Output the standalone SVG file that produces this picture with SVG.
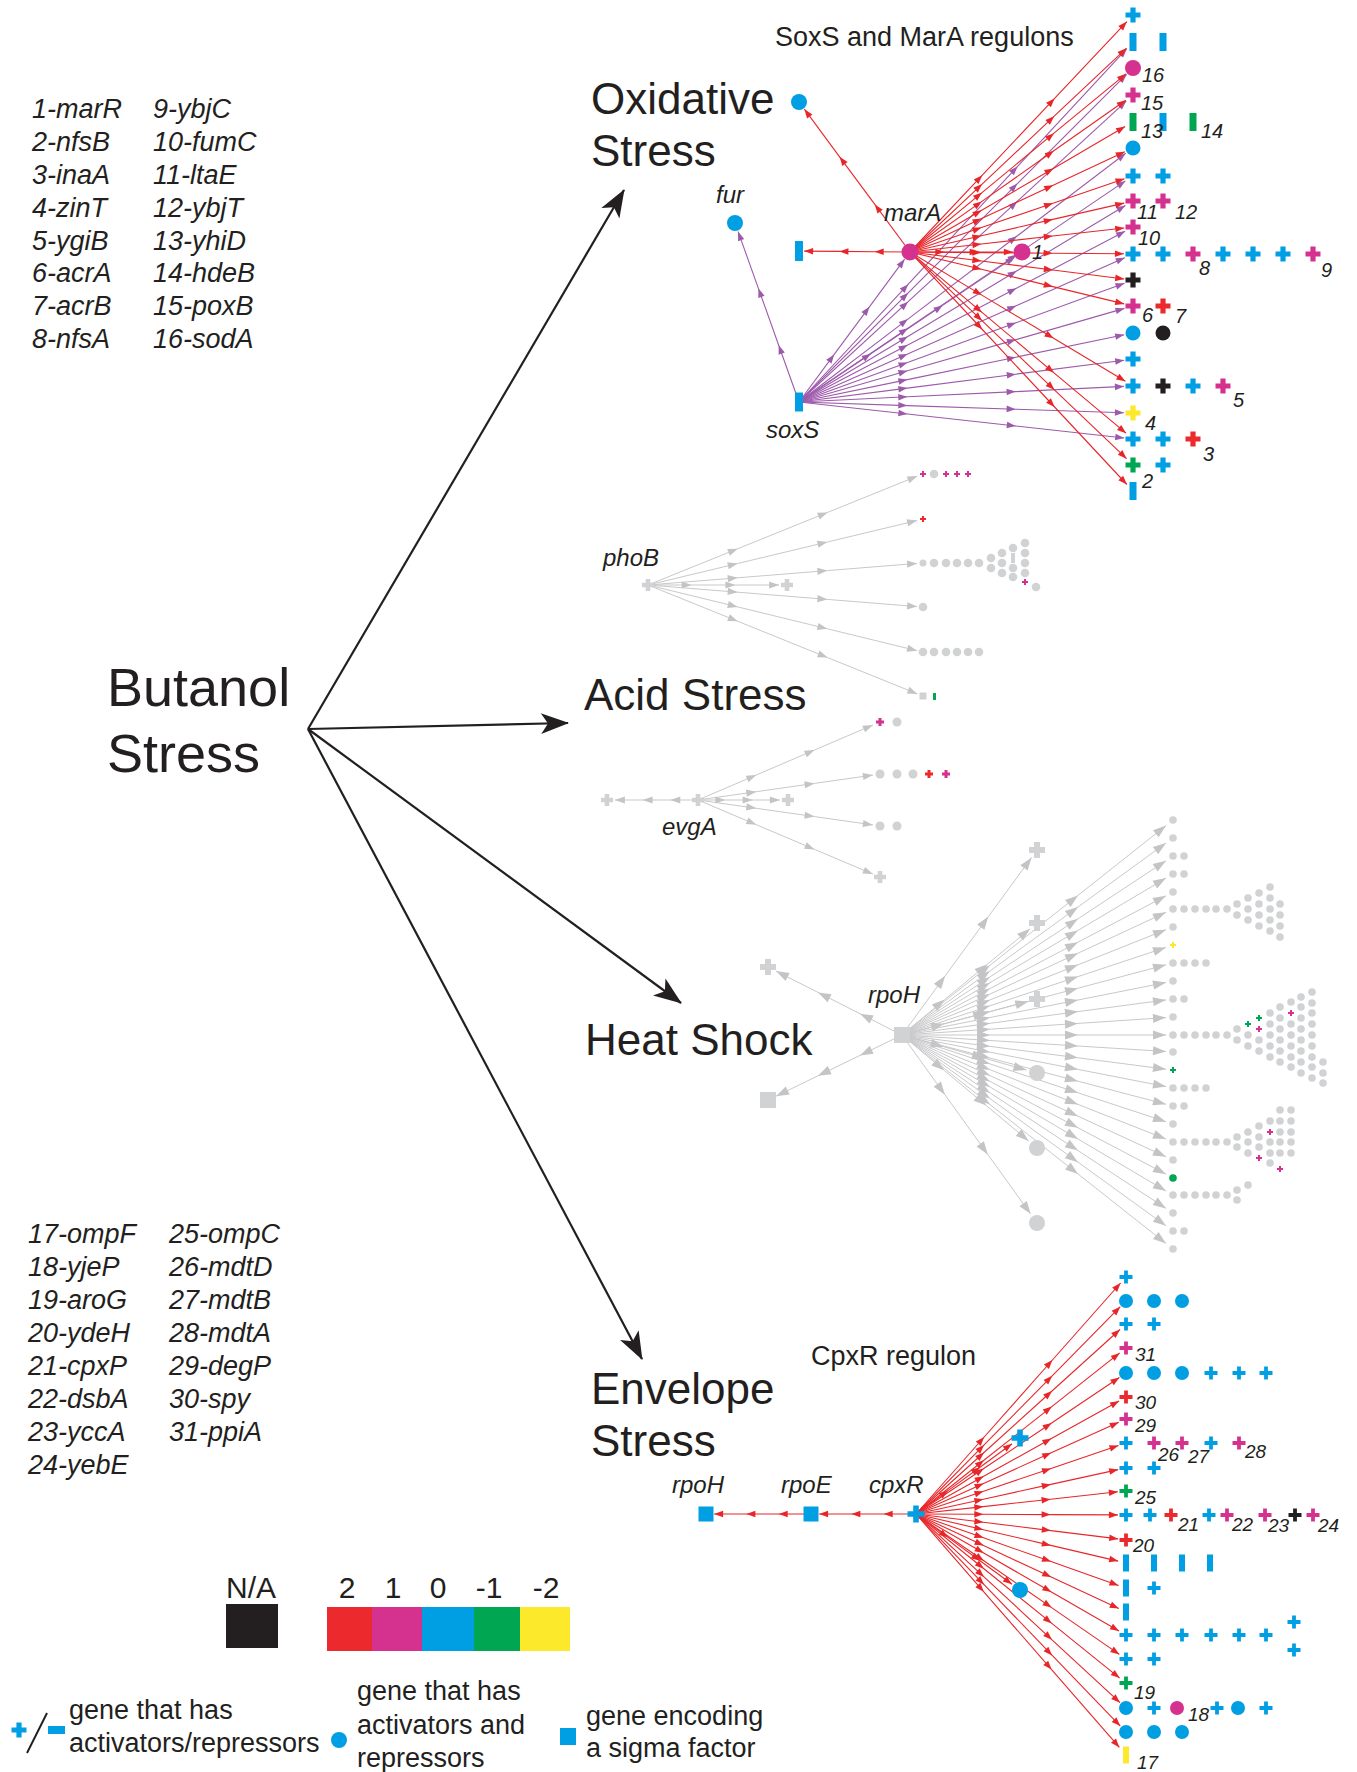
<svg xmlns="http://www.w3.org/2000/svg" width="1357" height="1772" viewBox="0 0 1357 1772">
<style>
text{font-family:"Liberation Sans",Arial,sans-serif;fill:#231f20}
.t{font-size:44px}.bt{font-size:54px}.sub{font-size:27px}
.gn{font-size:24px;font-style:italic}.n{font-size:20px;font-style:italic}.n2{font-size:19px;font-style:italic}
.ls{font-size:27px;font-style:italic}.lg{font-size:27px}.sc{font-size:30px}
.r{fill:#ec2a2d}.m{fill:#d5328f}.b{fill:#009fe3}.g{fill:#00a651}.y{fill:#fde92b}.k{fill:#231f20}.gr{fill:#d1d2d4}
.er{fill:none;stroke:#e8262a;stroke-width:1.1;marker-mid:url(#mr);marker-end:url(#mr)}
.ep{fill:none;stroke:#9d5aab;stroke-width:1.1;marker-mid:url(#mp);marker-end:url(#mp)}
.eg{fill:none;stroke:#c9c9cb;stroke-width:1;marker-mid:url(#mg);marker-end:url(#mg)}
.eh{fill:none;stroke:#c9c9cb;stroke-width:1;marker-mid:url(#mh);marker-end:url(#mh)}
</style>
<defs>
<marker id="mr" markerUnits="userSpaceOnUse" markerWidth="12" markerHeight="10" viewBox="-10 -5 12 10" refX="0" refY="0" orient="auto" overflow="visible"><path d="M0,0L-9,-3.3L-9,3.3z" fill="#e8262a"/></marker>
<marker id="mp" markerUnits="userSpaceOnUse" markerWidth="12" markerHeight="10" viewBox="-10 -5 12 10" refX="0" refY="0" orient="auto" overflow="visible"><path d="M0,0L-9,-3.3L-9,3.3z" fill="#9d5aab"/></marker>
<marker id="mg" markerUnits="userSpaceOnUse" markerWidth="12" markerHeight="10" viewBox="-10 -5 12 10" refX="0" refY="0" orient="auto" overflow="visible"><path d="M0,0L-10,-3.6L-10,3.6z" fill="#c4c4c6"/></marker>
<marker id="mh" markerUnits="userSpaceOnUse" markerWidth="14" markerHeight="10" viewBox="-13 -5 14 10" refX="0" refY="0" orient="auto" overflow="visible"><path d="M0,0L-13,-4.5L-13,4.5z" fill="#c4c4c6"/></marker>
<marker id="big" markerUnits="userSpaceOnUse" markerWidth="30" markerHeight="24" viewBox="-28 -12 30 24" refX="0" refY="0" orient="auto" overflow="visible"><path d="M1,0L-27,-10.5L-20,0L-27,10.5z" fill="#231f20"/></marker>
<path id="pL" d="M-2.6,-7.5h5.2v4.9h4.9v5.2h-4.9v4.9h-5.2v-4.9h-4.9v-5.2h4.9z"/>
<path id="pS" d="M-1.9,-6.5h3.8v4.6h4.6v3.8h-4.6v4.6h-3.8v-4.6h-4.6v-3.8h4.6z"/>
<path id="pB" d="M-2.8,-8.5h5.6v5.7h5.7v5.6h-5.7v5.7h-5.6v-5.7h-5.7v-5.6h5.7z"/>
<path id="pT" d="M-1,-3h2v2h2v2h-2v2h-2v-2h-2v-2h2z"/>
<path id="pM" d="M-1.5,-4h3v2.5h2.5v3h-2.5v2.5h-3v-2.5h-2.5v-3h2.5z"/>
<path id="pG" d="M-2.3,-6h4.6v3.7h3.7v4.6h-3.7v3.7h-4.6v-3.7h-3.7v-4.6h3.7z"/>
<path id="pH" d="M-3,-8h6v5h5v6h-5v5h-6v-5h-5v-6h5z"/>
</defs>
<rect width="1357" height="1772" fill="#fff"/>

<!-- connectors -->
<g id="connectors">
<g id="main-arrows" stroke="#231f20" stroke-width="2.2" fill="none" marker-end="url(#big)">
<line x1="308" y1="729" x2="624" y2="190"/>
<line x1="308" y1="729" x2="568" y2="723"/>
<line x1="308" y1="729" x2="681" y2="1003"/>
<line x1="308" y1="729" x2="642" y2="1359"/>
</g>
<g id="soxS-edges" class="ep">
<path d="M799 402l35.2 -47.6l35.2 -47.6l35.2 -47.6"/>
<path d="M799 402l71.8 -48.3l71.8 -48.3l71.8 -48.3"/>
<path d="M799 402l-20.3 -56.8l-20.3 -56.8l-20.3 -56.8"/>
<path d="M799 402l109.3 -117.8l109.3 -117.8l109.3 -117.8"/>
<path d="M799 402l109.2 -109.2l109.2 -109.2l109.2 -109.2"/>
<path d="M799 402l109.1 -100.3l109.1 -100.3l109.1 -100.3"/>
<path d="M799 402l108.9 -82.9l108.9 -82.9l108.9 -82.9"/>
<path d="M799 402l108.8 -73.7l108.8 -73.7l108.8 -73.7"/>
<path d="M799 402l108.8 -65.5l108.8 -65.5l108.8 -65.5"/>
<path d="M799 402l108.7 -56.9l108.7 -56.9l108.7 -56.9"/>
<path d="M799 402l108.6 -48.1l108.6 -48.1l108.6 -48.1"/>
<path d="M799 402l108.5 -39.6l108.5 -39.6l108.5 -39.6"/>
<path d="M799 402l108.5 -31.2l108.5 -31.2l108.5 -31.2"/>
<path d="M799 402l108.4 -22.4l108.4 -22.4l108.4 -22.4"/>
<path d="M799 402l108.4 -13.9l108.4 -13.9l108.4 -13.9"/>
<path d="M799 402l108.3 -5.2l108.3 -5.2l108.3 -5.2"/>
<path d="M799 402l108.3 3.6l108.3 3.6l108.3 3.6"/>
<path d="M799 402l108.4 12l108.4 12l108.4 12"/>
</g>
<g id="marA-edges" class="er">
<path d="M910 252l72.3 -76.8l72.3 -76.8l72.3 -76.8"/>
<path d="M910 252l72.1 -67.9l72.1 -67.9l72.1 -67.9"/>
<path d="M910 252l72 -59.4l72 -59.4l72 -59.4"/>
<path d="M910 252l71.9 -50.6l71.9 -50.6l71.9 -50.6"/>
<path d="M910 252l71.7 -41.8l71.7 -41.8l71.7 -41.8"/>
<path d="M910 252l71.6 -33.4l71.6 -33.4l71.6 -33.4"/>
<path d="M910 252l71.5 -24.4l71.5 -24.4l71.5 -24.4"/>
<path d="M910 252l71.4 -16.3l71.4 -16.3l71.4 -16.3"/>
<path d="M910 252l71.4 -8l71.4 -8l71.4 -8"/>
<path d="M910 252l71.3 0.6l71.3 0.6l71.3 0.6"/>
<path d="M910 252l71.4 9l71.4 9l71.4 9"/>
<path d="M910 252l71.4 17.3l71.4 17.3l71.4 17.3"/>
<path d="M910 252l71.8 43.1l71.8 43.1l71.8 43.1"/>
<path d="M910 252l72 60.4l72 60.4l72 60.4"/>
<path d="M910 252l72.2 68.9l72.2 68.9l72.2 68.9"/>
<path d="M910 252l72.3 77.5l72.3 77.5l72.3 77.5"/>
<path d="M910 252l34.3 0l34.3 0l34.3 0"/>
<path d="M910 252l-35.3 -0.3l-35.3 -0.3l-35.3 -0.3"/>
<path d="M910 252l-35.2 -47.6l-35.2 -47.6l-35.2 -47.6"/>
</g>
<g id="phoB-edges" class="eg">
<path d="M648 585l89.8 -36.3l89.8 -36.3l89.8 -36.3"/>
<path d="M648 585l89.7 -21.5l89.7 -21.5l89.7 -21.5"/>
<path d="M648 585l89.7 -7.2l89.7 -7.2l89.7 -7.2"/>
<path d="M648 585l43.7 0l43.7 0l43.7 0"/>
<path d="M648 585l89.7 7.2l89.7 7.2l89.7 7.2"/>
<path d="M648 585l89.7 21.9l89.7 21.9l89.7 21.9"/>
<path d="M648 585l89.8 36.3l89.8 36.3l89.8 36.3"/>
</g>
<g id="evgA-edges" class="eg">
<path d="M698 800l-27.7 0l-27.7 0l-27.7 0"/>
<path d="M698 800l58.3 -25l58.3 -25l58.3 -25"/>
<path d="M698 800l58.3 -8.3l58.3 -8.3l58.3 -8.3"/>
<path d="M698 800l27.3 0l27.3 0l27.3 0"/>
<path d="M698 800l58.3 8.3l58.3 8.3l58.3 8.3"/>
<path d="M698 800l58.3 24.7l58.3 24.7l58.3 24.7"/>
</g>
<g id="rpoH-heat-edges" class="eh">
<path d="M902 1035l-42 -21.3l-42 -21.3l-42 -21.3"/>
<path d="M902 1035l-42 20.4l-42 20.4l-42 20.4"/>
<path d="M902 1035l43.2 -59.2l43.2 -59.2l43.2 -59.2"/>
<path d="M902 1035l42.7 -35.4l42.7 -35.4l42.7 -35.4"/>
<path d="M902 1035l42.1 -11.2l42.1 -11.2l42.1 -11.2"/>
<path d="M902 1035l41.5 11.7l41.5 11.7l41.5 11.7"/>
<path d="M902 1035l42.2 35.3l42.2 35.3l42.2 35.3"/>
<path d="M902 1035l42.9 59.7l42.9 59.7l42.9 59.7"/>
<path d="M902 1035l88 -69.8l88 -69.8l88 -69.8"/>
<path d="M902 1035l88 -64l88 -64l88 -64"/>
<path d="M902 1035l88 -58.1l88 -58.1l88 -58.1"/>
<path d="M902 1035l88 -52.3l88 -52.3l88 -52.3"/>
<path d="M902 1035l88 -46.4l88 -46.4l88 -46.4"/>
<path d="M902 1035l88 -40.9l88 -40.9l88 -40.9"/>
<path d="M902 1035l88 -35.1l88 -35.1l88 -35.1"/>
<path d="M902 1035l88 -29.2l88 -29.2l88 -29.2"/>
<path d="M902 1035l88 -23.4l88 -23.4l88 -23.4"/>
<path d="M902 1035l88 -17.5l88 -17.5l88 -17.5"/>
<path d="M902 1035l88 -11.7l88 -11.7l88 -11.7"/>
<path d="M902 1035l88 -5.8l88 -5.8l88 -5.8"/>
<path d="M902 1035l88 0l88 0l88 0"/>
<path d="M902 1035l88 5.5l88 5.5l88 5.5"/>
<path d="M902 1035l88 11.4l88 11.4l88 11.4"/>
<path d="M902 1035l88 17.2l88 17.2l88 17.2"/>
<path d="M902 1035l88 23.1l88 23.1l88 23.1"/>
<path d="M902 1035l88 28.9l88 28.9l88 28.9"/>
<path d="M902 1035l88 34.7l88 34.7l88 34.7"/>
<path d="M902 1035l88 40.6l88 40.6l88 40.6"/>
<path d="M902 1035l88 46.4l88 46.4l88 46.4"/>
<path d="M902 1035l88 52l88 52l88 52"/>
<path d="M902 1035l88 57.8l88 57.8l88 57.8"/>
<path d="M902 1035l88 63.6l88 63.6l88 63.6"/>
<path d="M902 1035l88 69.5l88 69.5l88 69.5"/>
</g>
<g id="cpxR-edges" class="er">
<path d="M916 1514l-32.3 0l-32.3 0l-32.3 0"/>
<path d="M811 1514l-32.3 0l-32.3 0l-32.3 0"/>
<path d="M916 1514l32 -23.4l32 -23.4l32 -23.4"/>
<path d="M916 1514l32 23.4l32 23.4l32 23.4"/>
<path d="M916 1514l68.2 -77l68.2 -77l68.2 -77"/>
<path d="M916 1514l68.1 -69.1l68.1 -69.1l68.1 -69.1"/>
<path d="M916 1514l68 -61.5l68 -61.5l68 -61.5"/>
<path d="M916 1514l67.9 -53.7l67.9 -53.7l67.9 -53.7"/>
<path d="M916 1514l67.8 -45.5l67.8 -45.5l67.8 -45.5"/>
<path d="M916 1514l67.7 -37.7l67.7 -37.7l67.7 -37.7"/>
<path d="M916 1514l67.6 -30.6l67.6 -30.6l67.6 -30.6"/>
<path d="M916 1514l67.5 -22.8l67.5 -22.8l67.5 -22.8"/>
<path d="M916 1514l67.4 -14.8l67.4 -14.8l67.4 -14.8"/>
<path d="M916 1514l67.3 -7.4l67.3 -7.4l67.3 -7.4"/>
<path d="M916 1514l67.3 0.3l67.3 0.3l67.3 0.3"/>
<path d="M916 1514l67.4 8.3l67.4 8.3l67.4 8.3"/>
<path d="M916 1514l67.4 15.7l67.4 15.7l67.4 15.7"/>
<path d="M916 1514l67.5 23.8l67.5 23.8l67.5 23.8"/>
<path d="M916 1514l67.6 31.5l67.6 31.5l67.6 31.5"/>
<path d="M916 1514l67.7 39l67.7 39l67.7 39"/>
<path d="M916 1514l67.8 46.8l67.8 46.8l67.8 46.8"/>
<path d="M916 1514l67.9 54.7l67.9 54.7l67.9 54.7"/>
<path d="M916 1514l68 62.9l68 62.9l68 62.9"/>
<path d="M916 1514l68.1 70.7l68.1 70.7l68.1 70.7"/>
<path d="M916 1514l67.8 77.8l67.8 77.8l67.8 77.8"/>
</g>
</g>

<!-- titles -->
<g id="titles">
<text class="bt" x="107" y="706">Butanol</text>
<text class="bt" x="107" y="772">Stress</text>
<text class="t" x="591" y="114">Oxidative</text>
<text class="t" x="591" y="166">Stress</text>
<text class="t" x="584" y="710">Acid Stress</text>
<text class="t" x="585" y="1055">Heat Shock</text>
<text class="t" x="591" y="1404">Envelope</text>
<text class="t" x="591" y="1456">Stress</text>
<text class="sub" x="775" y="46">SoxS and MarA regulons</text>
<text class="sub" x="811" y="1365">CpxR regulon</text>
</g>

<!-- gene lists -->
<g id="list-oxidative">
<text class="ls" x="32" y="118">1-marR</text>
<text class="ls" x="32" y="151">2-nfsB</text>
<text class="ls" x="32" y="184">3-inaA</text>
<text class="ls" x="32" y="217">4-zinT</text>
<text class="ls" x="32" y="250">5-ygiB</text>
<text class="ls" x="32" y="282">6-acrA</text>
<text class="ls" x="32" y="315">7-acrB</text>
<text class="ls" x="32" y="348">8-nfsA</text>
<text class="ls" x="153" y="118">9-ybjC</text>
<text class="ls" x="153" y="151">10-fumC</text>
<text class="ls" x="153" y="184">11-ltaE</text>
<text class="ls" x="153" y="217">12-ybjT</text>
<text class="ls" x="153" y="250">13-yhiD</text>
<text class="ls" x="153" y="282">14-hdeB</text>
<text class="ls" x="153" y="315">15-poxB</text>
<text class="ls" x="153" y="348">16-sodA</text>
</g>
<g id="list-envelope">
<text class="ls" x="28" y="1243">17-ompF</text>
<text class="ls" x="28" y="1276">18-yjeP</text>
<text class="ls" x="28" y="1309">19-aroG</text>
<text class="ls" x="28" y="1342">20-ydeH</text>
<text class="ls" x="28" y="1375">21-cpxP</text>
<text class="ls" x="28" y="1408">22-dsbA</text>
<text class="ls" x="28" y="1441">23-yccA</text>
<text class="ls" x="28" y="1474">24-yebE</text>
<text class="ls" x="169" y="1243">25-ompC</text>
<text class="ls" x="169" y="1276">26-mdtD</text>
<text class="ls" x="169" y="1309">27-mdtB</text>
<text class="ls" x="169" y="1342">28-mdtA</text>
<text class="ls" x="169" y="1375">29-degP</text>
<text class="ls" x="169" y="1408">30-spy</text>
<text class="ls" x="169" y="1441">31-ppiA</text>
</g>

<!-- oxidative nodes -->
<g id="node-top-circle"><circle cx="799" cy="102" r="8" class="b"/></g>
<g id="node-fur"><circle cx="735" cy="223" r="8" class="b"/><text class="gn" x="716" y="203">fur</text></g>
<g id="node-left-bar"><rect x="795" y="241" width="8" height="20" class="b"/></g>
<g id="node-marA"><circle cx="910" cy="252" r="8.5" class="m"/><text class="gn" x="884" y="221">marA</text></g>
<g id="node-soxS"><rect x="795" y="392.5" width="8" height="19" class="b"/><text class="gn" x="766" y="438">soxS</text></g>
<g id="node-1"><circle cx="1022" cy="252" r="8.5" class="m"/><text class="n" x="1032" y="259">1</text></g>
<g id="ox-row-A"><use href="#pL" x="1133" y="15" class="b"/></g>
<g id="ox-row-B"><rect x="1129.5" y="33" width="7" height="18" class="b"/><rect x="1159.5" y="33" width="7" height="18" class="b"/></g>
<g id="ox-row-C"><circle cx="1133" cy="68" r="8" class="m"/><text class="n" x="1142" y="82">16</text></g>
<g id="ox-row-D"><use href="#pL" x="1133" y="95" class="m"/><text class="n" x="1141" y="110">15</text></g>
<g id="ox-row-E"><rect x="1129.5" y="113" width="7" height="18" class="g"/><rect x="1159.5" y="113" width="7" height="18" class="b"/><rect x="1189.5" y="113" width="7" height="18" class="g"/><text class="n" x="1141" y="138">13</text><text class="n" x="1201" y="138">14</text></g>
<g id="ox-row-F"><circle cx="1133" cy="148" r="7.5" class="b"/></g>
<g id="ox-row-G"><use href="#pL" x="1133" y="176" class="b"/><use href="#pL" x="1163" y="176" class="b"/></g>
<g id="ox-row-H"><use href="#pL" x="1133" y="201" class="m"/><use href="#pL" x="1163" y="201" class="m"/><text class="n" x="1137" y="219">11</text><text class="n" x="1175" y="219">12</text></g>
<g id="ox-row-I"><use href="#pL" x="1133" y="227" class="m"/><text class="n" x="1138" y="245">10</text></g>
<g id="ox-row-J"><use href="#pL" x="1133" y="254" class="b"/><use href="#pL" x="1163" y="254" class="b"/><use href="#pL" x="1193" y="254" class="m"/><use href="#pL" x="1223" y="254" class="b"/><use href="#pL" x="1253" y="254" class="b"/><use href="#pL" x="1283" y="254" class="b"/><use href="#pL" x="1313" y="254" class="m"/><text class="n" x="1199" y="275">8</text><text class="n" x="1321" y="277">9</text></g>
<g id="ox-row-K"><use href="#pL" x="1133" y="280" class="k"/></g>
<g id="ox-row-L"><use href="#pL" x="1133" y="306" class="m"/><use href="#pL" x="1163" y="306" class="r"/><text class="n" x="1142" y="322">6</text><text class="n" x="1175" y="323">7</text></g>
<g id="ox-row-M"><circle cx="1133" cy="333" r="7.5" class="b"/><circle cx="1163" cy="333" r="7.5" class="k"/></g>
<g id="ox-row-N"><use href="#pL" x="1133" y="359" class="b"/></g>
<g id="ox-row-O"><use href="#pL" x="1133" y="386" class="b"/><use href="#pL" x="1163" y="386" class="k"/><use href="#pL" x="1193" y="386" class="b"/><use href="#pL" x="1223" y="386" class="m"/><text class="n" x="1233" y="407">5</text></g>
<g id="ox-row-P"><use href="#pL" x="1133" y="413" class="y"/><text class="n" x="1145" y="430">4</text></g>
<g id="ox-row-Q"><use href="#pL" x="1133" y="439" class="b"/><use href="#pL" x="1163" y="439" class="b"/><use href="#pL" x="1193" y="439" class="r"/><text class="n" x="1203" y="461">3</text></g>
<g id="ox-row-R"><use href="#pL" x="1133" y="465" class="g"/><use href="#pL" x="1163" y="465" class="b"/></g>
<g id="ox-row-S"><rect x="1129.5" y="482" width="7" height="18" class="b"/><text class="n" x="1142" y="488">2</text></g>

<!-- acid stress nodes -->
<g id="node-phoB"><use href="#pG" x="648" y="585" class="gr"/><text class="gn" x="603" y="566">phoB</text></g>
<g id="acid-T1"><use href="#pT" x="923" y="474" class="m"/><circle cx="934" cy="474" r="4.3" class="gr"/><use href="#pT" x="946" y="474" class="m"/><use href="#pT" x="957" y="474" class="m"/><use href="#pT" x="968" y="474" class="m"/></g>
<g id="acid-T2"><use href="#pT" x="923" y="519" class="r"/></g>
<g id="acid-T3" class="gr">
<circle cx="923" cy="563" r="3.5"/><circle cx="934" cy="563" r="4.3"/><circle cx="946" cy="563" r="4.3"/><circle cx="957" cy="563" r="4.3"/><circle cx="968" cy="563" r="4.3"/><circle cx="979" cy="563" r="4.3"/>
<circle cx="991" cy="558" r="4.3"/><circle cx="991" cy="568" r="4.3"/>
<circle cx="1002" cy="553" r="4.3"/><circle cx="1002" cy="563" r="4.3"/><circle cx="1002" cy="573" r="4.3"/>
<circle cx="1013" cy="548" r="4.3"/><rect x="1011" y="553" width="4" height="10"/><circle cx="1013" cy="568" r="4.3"/><circle cx="1013" cy="577" r="4.3"/>
<circle cx="1025" cy="543" r="4.3"/><circle cx="1025" cy="553" r="4.3"/><circle cx="1025" cy="563" r="4.3"/><circle cx="1025" cy="573" r="4.3"/>
<circle cx="1036" cy="587" r="4.3"/>
<use href="#pT" x="1025" y="582" class="m"/>
</g>
<g id="acid-T4"><use href="#pG" x="787" y="585" class="gr"/></g>
<g id="acid-T5"><circle cx="923" cy="607" r="4.3" class="gr"/></g>
<g id="acid-T6" class="gr"><circle cx="923" cy="652" r="4.3"/><circle cx="934" cy="652" r="4.3"/><circle cx="946" cy="652" r="4.3"/><circle cx="957" cy="652" r="4.3"/><circle cx="968" cy="652" r="4.3"/><circle cx="979" cy="652" r="4.3"/></g>
<g id="acid-T7"><rect x="919.5" y="692.5" width="7" height="7" class="gr"/><rect x="933" y="693" width="3" height="7" class="g"/></g>
<g id="node-evgA"><use href="#pG" x="698" y="800" class="gr"/><text class="gn" x="662" y="835">evgA</text></g>
<g id="acid-U0"><use href="#pG" x="607" y="800" class="gr"/></g>
<g id="acid-U1"><use href="#pM" x="880" y="722" class="m"/><circle cx="897" cy="722" r="4.5" class="gr"/></g>
<g id="acid-U2"><circle cx="880" cy="774" r="4.5" class="gr"/><circle cx="897" cy="774" r="4.5" class="gr"/><circle cx="913" cy="774" r="4.5" class="gr"/><use href="#pM" x="929" y="774" class="r"/><use href="#pM" x="946" y="774" class="m"/></g>
<g id="acid-U3"><use href="#pG" x="788" y="800" class="gr"/></g>
<g id="acid-U4"><circle cx="880" cy="826" r="4.5" class="gr"/><circle cx="897" cy="826" r="4.5" class="gr"/></g>
<g id="acid-U5"><use href="#pG" x="880" y="877" class="gr"/></g>

<!-- heat shock nodes -->
<g id="node-rpoH-heat"><rect x="894" y="1027" width="16" height="16" class="gr"/><text class="gn" x="868" y="1003">rpoH</text></g>
<g id="heat-left" class="gr"><use href="#pH" x="768" y="967"/><rect x="760" y="1092" width="16" height="16"/></g>
<g id="heat-mid" class="gr"><use href="#pH" x="1037" y="850"/><use href="#pH" x="1037" y="923"/><use href="#pH" x="1037" y="999"/><circle cx="1037" cy="1073" r="8"/><circle cx="1037" cy="1148" r="8"/><circle cx="1037" cy="1223" r="8"/></g>
<g id="heat-targets" class="gr">
<circle cx="1173" cy="820" r="3.8"/><circle cx="1173" cy="838" r="3.8"/><circle cx="1173" cy="856" r="3.8"/><circle cx="1173" cy="874" r="3.8"/><circle cx="1173" cy="892" r="3.8"/><circle cx="1173" cy="909" r="3.8"/><circle cx="1173" cy="927" r="3.8"/><circle cx="1173" cy="963" r="3.8"/><circle cx="1173" cy="981" r="3.8"/><circle cx="1173" cy="999" r="3.8"/><circle cx="1173" cy="1017" r="3.8"/><circle cx="1173" cy="1035" r="3.8"/><circle cx="1173" cy="1052" r="3.8"/><circle cx="1173" cy="1088" r="3.8"/><circle cx="1173" cy="1106" r="3.8"/><circle cx="1173" cy="1124" r="3.8"/><circle cx="1173" cy="1142" r="3.8"/><circle cx="1173" cy="1160" r="3.8"/><circle cx="1173" cy="1195" r="3.8"/><circle cx="1173" cy="1213" r="3.8"/><circle cx="1173" cy="1231" r="3.8"/><circle cx="1173" cy="1249" r="3.8"/>
<use href="#pT" x="1173" y="945" class="y"/><use href="#pT" x="1173" y="1070" class="g"/><circle cx="1173" cy="1178" r="3.8" class="g"/>
<circle cx="1184" cy="856" r="3.8"/><circle cx="1184" cy="874" r="3.8"/><circle cx="1184" cy="999" r="3.8"/><circle cx="1184" cy="1106" r="3.8"/><circle cx="1184" cy="1231" r="3.8"/>
<circle cx="1184" cy="963" r="3.8"/><circle cx="1195" cy="963" r="3.8"/><circle cx="1206" cy="963" r="3.8"/>
<circle cx="1184" cy="1088" r="3.8"/><circle cx="1195" cy="1088" r="3.8"/><circle cx="1206" cy="1088" r="3.8"/>
<circle cx="1184" cy="909" r="3.8"/><circle cx="1195" cy="909" r="3.8"/><circle cx="1206" cy="909" r="3.8"/><circle cx="1216" cy="909" r="3.8"/><circle cx="1227" cy="909" r="3.8"/>
<circle cx="1237" cy="904" r="3.8"/><circle cx="1237" cy="915" r="3.8"/><circle cx="1248" cy="898" r="3.8"/><circle cx="1248" cy="909" r="3.8"/><circle cx="1248" cy="920" r="3.8"/><circle cx="1259" cy="893" r="3.8"/><circle cx="1259" cy="904" r="3.8"/><circle cx="1259" cy="915" r="3.8"/><circle cx="1259" cy="926" r="3.8"/><circle cx="1270" cy="887" r="3.8"/><circle cx="1270" cy="898" r="3.8"/><circle cx="1270" cy="909" r="3.8"/><circle cx="1270" cy="920" r="3.8"/><circle cx="1270" cy="931" r="3.8"/><circle cx="1280" cy="904" r="3.8"/><circle cx="1280" cy="915" r="3.8"/><circle cx="1280" cy="926" r="3.8"/><circle cx="1280" cy="937" r="3.8"/>
<circle cx="1184" cy="1035" r="3.8"/><circle cx="1195" cy="1035" r="3.8"/><circle cx="1206" cy="1035" r="3.8"/><circle cx="1216" cy="1035" r="3.8"/><circle cx="1227" cy="1035" r="3.8"/>
<circle cx="1237" cy="1029" r="3.8"/><circle cx="1237" cy="1040" r="3.8"/>
<circle cx="1248" cy="1035" r="3.8"/><circle cx="1248" cy="1046" r="3.8"/>
<circle cx="1259" cy="1040" r="3.8"/><circle cx="1259" cy="1051" r="3.8"/>
<circle cx="1270" cy="1013" r="3.8"/><circle cx="1270" cy="1024" r="3.8"/><circle cx="1270" cy="1035" r="3.8"/><circle cx="1270" cy="1046" r="3.8"/><circle cx="1270" cy="1057" r="3.8"/>
<circle cx="1280" cy="1007" r="3.8"/><circle cx="1280" cy="1018" r="3.8"/><circle cx="1280" cy="1029" r="3.8"/><circle cx="1280" cy="1040" r="3.8"/><circle cx="1280" cy="1051" r="3.8"/><circle cx="1280" cy="1062" r="3.8"/>
<circle cx="1291" cy="1002" r="3.8"/><circle cx="1291" cy="1024" r="3.8"/><circle cx="1291" cy="1035" r="3.8"/><circle cx="1291" cy="1046" r="3.8"/><circle cx="1291" cy="1057" r="3.8"/><circle cx="1291" cy="1067" r="3.8"/>
<circle cx="1301" cy="997" r="3.8"/><circle cx="1301" cy="1007" r="3.8"/><circle cx="1301" cy="1018" r="3.8"/><circle cx="1301" cy="1029" r="3.8"/><circle cx="1301" cy="1040" r="3.8"/><circle cx="1301" cy="1051" r="3.8"/><circle cx="1301" cy="1062" r="3.8"/><circle cx="1301" cy="1073" r="3.8"/>
<circle cx="1312" cy="992" r="3.8"/><circle cx="1312" cy="1003" r="3.8"/><circle cx="1312" cy="1013" r="3.8"/><circle cx="1312" cy="1024" r="3.8"/><circle cx="1312" cy="1035" r="3.8"/><circle cx="1312" cy="1046" r="3.8"/><circle cx="1312" cy="1057" r="3.8"/><circle cx="1312" cy="1067" r="3.8"/><circle cx="1312" cy="1078" r="3.8"/>
<circle cx="1323" cy="1062" r="3.8"/><circle cx="1323" cy="1073" r="3.8"/><circle cx="1323" cy="1083" r="3.8"/>
<use href="#pT" x="1248" y="1024" class="g"/><use href="#pT" x="1259" y="1018" class="g"/><use href="#pT" x="1259" y="1029" class="m"/><use href="#pT" x="1291" y="1013" class="m"/>
<circle cx="1184" cy="1142" r="3.8"/><circle cx="1195" cy="1142" r="3.8"/><circle cx="1206" cy="1142" r="3.8"/><circle cx="1216" cy="1142" r="3.8"/><circle cx="1227" cy="1142" r="3.8"/>
<circle cx="1237" cy="1137" r="3.8"/><circle cx="1237" cy="1147" r="3.8"/>
<circle cx="1248" cy="1132" r="3.8"/><circle cx="1248" cy="1142" r="3.8"/><circle cx="1248" cy="1153" r="3.8"/>
<circle cx="1259" cy="1126" r="3.8"/><circle cx="1259" cy="1137" r="3.8"/><circle cx="1259" cy="1147" r="3.8"/>
<circle cx="1270" cy="1121" r="3.8"/><circle cx="1270" cy="1142" r="3.8"/><circle cx="1270" cy="1153" r="3.8"/><circle cx="1270" cy="1163" r="3.8"/>
<circle cx="1280" cy="1110" r="3.8"/><circle cx="1280" cy="1121" r="3.8"/><circle cx="1280" cy="1132" r="3.8"/><circle cx="1280" cy="1142" r="3.8"/><circle cx="1280" cy="1153" r="3.8"/>
<circle cx="1291" cy="1110" r="3.8"/><circle cx="1291" cy="1121" r="3.8"/><circle cx="1291" cy="1132" r="3.8"/><circle cx="1291" cy="1142" r="3.8"/><circle cx="1291" cy="1153" r="3.8"/>
<use href="#pT" x="1259" y="1158" class="m"/><use href="#pT" x="1270" y="1132" class="m"/><use href="#pT" x="1280" y="1169" class="m"/>
<circle cx="1184" cy="1195" r="3.8"/><circle cx="1195" cy="1195" r="3.8"/><circle cx="1206" cy="1195" r="3.8"/><circle cx="1216" cy="1195" r="3.8"/><circle cx="1227" cy="1195" r="3.8"/>
<circle cx="1237" cy="1190" r="3.8"/><circle cx="1237" cy="1200" r="3.8"/><circle cx="1248" cy="1185" r="3.8"/>
</g>

<!-- envelope nodes -->
<g id="node-rpoH-env"><rect x="698.5" y="1506.5" width="15" height="15" class="b"/><text class="gn" x="672" y="1493">rpoH</text></g>
<g id="node-rpoE"><rect x="803.5" y="1506.5" width="15" height="15" class="b"/><text class="gn" x="781" y="1493">rpoE</text></g>
<g id="node-cpxR"><use href="#pB" x="916" y="1514" class="b"/><text class="gn" x="869" y="1493">cpxR</text></g>
<g id="env-mid-plus"><use href="#pB" x="1020" y="1438" class="b"/></g>
<g id="env-mid-circle"><circle cx="1020" cy="1590" r="8" class="b"/></g>
<g id="env-R1"><use href="#pS" x="1126" y="1277" class="b"/></g>
<g id="env-R2" class="b"><circle cx="1126" cy="1301" r="7"/><circle cx="1154" cy="1301" r="7"/><circle cx="1182" cy="1301" r="7"/></g>
<g id="env-R3"><use href="#pS" x="1126" y="1324" class="b"/><use href="#pS" x="1154" y="1324" class="b"/></g>
<g id="env-R4"><use href="#pS" x="1126" y="1348" class="m"/><text class="n2" x="1135" y="1361">31</text></g>
<g id="env-R5"><circle cx="1126" cy="1373" r="7" class="b"/><circle cx="1154" cy="1373" r="7" class="b"/><circle cx="1182" cy="1373" r="7" class="b"/><use href="#pS" x="1211" y="1373" class="b"/><use href="#pS" x="1239" y="1373" class="b"/><use href="#pS" x="1266" y="1373" class="b"/></g>
<g id="env-R6"><use href="#pS" x="1126" y="1397" class="r"/><text class="n2" x="1135" y="1409">30</text></g>
<g id="env-R7"><use href="#pS" x="1126" y="1419" class="m"/><text class="n2" x="1135" y="1432">29</text></g>
<g id="env-R8"><use href="#pS" x="1126" y="1443" class="b"/><use href="#pS" x="1154" y="1443" class="m"/><use href="#pS" x="1182" y="1443" class="m"/><use href="#pS" x="1211" y="1443" class="b"/><use href="#pS" x="1239" y="1443" class="m"/><text class="n2" x="1158" y="1461">26</text><text class="n2" x="1188" y="1463">27</text><text class="n2" x="1245" y="1458">28</text></g>
<g id="env-R9"><use href="#pS" x="1126" y="1468" class="b"/><use href="#pS" x="1154" y="1468" class="b"/></g>
<g id="env-R10"><use href="#pS" x="1126" y="1491" class="g"/><text class="n2" x="1135" y="1504">25</text></g>
<g id="env-R11"><use href="#pS" x="1126" y="1515" class="b"/><use href="#pS" x="1150" y="1515" class="b"/><use href="#pS" x="1171" y="1515" class="r"/><text class="n2" x="1178" y="1531">21</text><use href="#pS" x="1209" y="1515" class="b"/><use href="#pS" x="1227" y="1515" class="m"/><text class="n2" x="1232" y="1531">22</text><use href="#pS" x="1265" y="1515" class="m"/><text class="n2" x="1268" y="1532">23</text><use href="#pS" x="1295" y="1515" class="k"/><use href="#pS" x="1313" y="1515" class="m"/><text class="n2" x="1318" y="1532">24</text></g>
<g id="env-R12"><use href="#pS" x="1126" y="1540" class="r"/><text class="n2" x="1133" y="1552">20</text></g>
<g id="env-R13" class="b"><rect x="1123" y="1554.5" width="6" height="17"/><rect x="1151" y="1554.5" width="6" height="17"/><rect x="1179" y="1554.5" width="6" height="17"/><rect x="1207" y="1554.5" width="6" height="17"/></g>
<g id="env-R14"><rect x="1123" y="1579.5" width="6" height="17" class="b"/><use href="#pS" x="1154" y="1588" class="b"/></g>
<g id="env-R15"><rect x="1123" y="1603.5" width="6" height="17" class="b"/></g>
<g id="env-R16"><use href="#pS" x="1126" y="1635" class="b"/><use href="#pS" x="1154" y="1635" class="b"/><use href="#pS" x="1182" y="1635" class="b"/><use href="#pS" x="1211" y="1635" class="b"/><use href="#pS" x="1239" y="1635" class="b"/><use href="#pS" x="1266" y="1635" class="b"/><use href="#pS" x="1294" y="1622" class="b"/><use href="#pS" x="1294" y="1650" class="b"/></g>
<g id="env-R17"><use href="#pS" x="1126" y="1659" class="b"/><use href="#pS" x="1154" y="1659" class="b"/></g>
<g id="env-R18"><use href="#pS" x="1126" y="1683" class="g"/><text class="n2" x="1134" y="1699">19</text></g>
<g id="env-R19"><circle cx="1126" cy="1708" r="7" class="b"/><use href="#pS" x="1154" y="1708" class="b"/><circle cx="1177" cy="1708" r="7" class="m"/><text class="n2" x="1188" y="1721">18</text><use href="#pS" x="1217" y="1708" class="b"/><circle cx="1238" cy="1708" r="7" class="b"/><use href="#pS" x="1266" y="1708" class="b"/></g>
<g id="env-R20" class="b"><circle cx="1126" cy="1732" r="7"/><circle cx="1154" cy="1732" r="7"/><circle cx="1182" cy="1732" r="7"/></g>
<g id="env-R21"><rect x="1123" y="1746.5" width="6" height="17" class="y"/><text class="n2" x="1137" y="1769">17</text></g>

<!-- legend -->
<g id="legend-scale">
<text class="sc" x="226" y="1598">N/A</text>
<rect x="226" y="1604" width="52" height="44" class="k"/>
<rect x="327" y="1607" width="46" height="44" class="r"/>
<rect x="372" y="1607" width="51" height="44" class="m"/>
<rect x="422" y="1607" width="53" height="44" class="b"/>
<rect x="474" y="1607" width="47" height="44" class="g"/>
<rect x="520" y="1607" width="50" height="44" class="y"/>
<text class="sc" x="347" y="1598" text-anchor="middle">2</text>
<text class="sc" x="393" y="1598" text-anchor="middle">1</text>
<text class="sc" x="438" y="1598" text-anchor="middle">0</text>
<text class="sc" x="489" y="1598" text-anchor="middle">-1</text>
<text class="sc" x="546" y="1598" text-anchor="middle">-2</text>
</g>
<g id="legend-shapes">
<use href="#pL" x="19" y="1730" class="b"/>
<line x1="27" y1="1753" x2="47" y2="1713" stroke="#231f20" stroke-width="2"/>
<rect x="48" y="1726" width="17" height="8" class="b"/>
<text class="lg" x="69" y="1719">gene that has</text>
<text class="lg" x="69" y="1752">activators/repressors</text>
<circle cx="339" cy="1740" r="8" class="b"/>
<text class="lg" x="357" y="1700">gene that has</text>
<text class="lg" x="357" y="1734">activators and</text>
<text class="lg" x="357" y="1767">repressors</text>
<rect x="560" y="1728" width="16" height="17" class="b"/>
<text class="lg" x="586" y="1725">gene encoding</text>
<text class="lg" x="586" y="1757">a sigma factor</text>
</g>
</svg>
